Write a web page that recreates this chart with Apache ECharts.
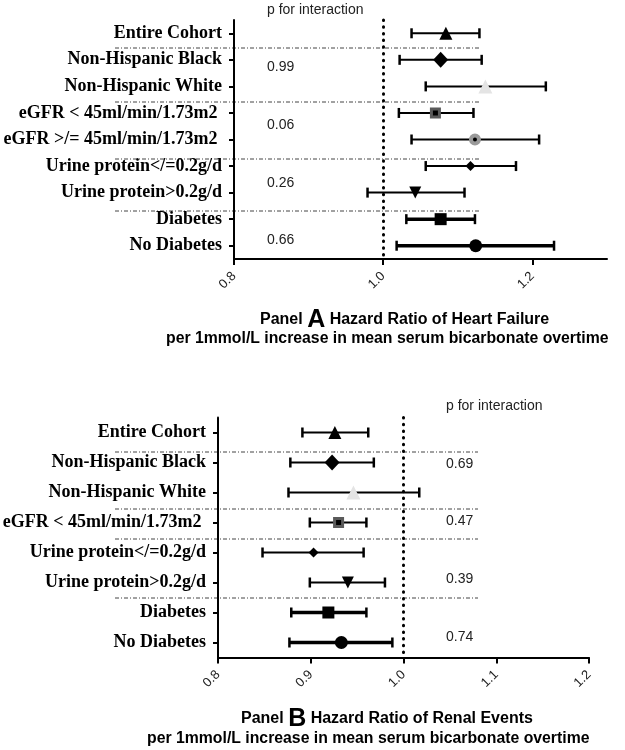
<!DOCTYPE html>
<html>
<head>
<meta charset="utf-8">
<script src="https://cdn.jsdelivr.net/npm/echarts@6/dist/echarts.min.js"></script>
<style>
  html, body { margin: 0; padding: 0; background: #fff; }
  #chart { width: 625px; height: 750px; }
</style>
</head>
<body>
<div id="chart"></div>
<script>
// Panel A - heart failure
const categoriesA = [
  "Entire Cohort",
  "Non-Hispanic Black",
  "Non-Hispanic White",
  "eGFR < 45ml/min/1.73m2 ",
  "eGFR >/= 45ml/min/1.73m2 ",
  "Urine protein</=0.2g/d",
  "Urine protein>0.2g/d",
  "Diabetes",
  "No Diabetes",
];
const estA = [1.084, 1.077, 1.137, 1.070, 1.123, 1.117, 1.043, 1.077, 1.124];
const lowA = [1.038, 1.022, 1.057, 1.021, 1.038, 1.057, 0.979, 1.031, 1.018];
const highA = [1.129, 1.132, 1.218, 1.121, 1.209, 1.178, 1.109, 1.123, 1.229];
const pValuesA = ["0.99", "0.06", "0.26", "0.66"];
const ticksA = [0.8, 1.0, 1.2];

// Panel B - renal events
const categoriesB = [
  "Entire Cohort",
  "Non-Hispanic Black",
  "Non-Hispanic White",
  "eGFR < 45ml/min/1.73m2 ",
  "Urine protein</=0.2g/d",
  "Urine protein>0.2g/d",
  "Diabetes",
  "No Diabetes",
];
const estB = [0.926, 0.923, 0.946, 0.930, 0.903, 0.940, 0.919, 0.933];
const lowB = [0.891, 0.878, 0.876, 0.899, 0.848, 0.899, 0.879, 0.877];
const highB = [0.962, 0.968, 1.017, 0.960, 0.957, 0.980, 0.960, 0.988];
const pValuesB = ["0.69", "0.47", "0.39", "0.74"];
const ticksB = [0.8, 0.9, 1.0, 1.1, 1.2];

// marker look for each subgroup
const markerStyles = {
  "Entire Cohort": { symbol: "triangle", symbolSize: 13, itemStyle: { color: "#000" } },
  "Non-Hispanic Black": { symbol: "diamond", symbolSize: [15, 16], itemStyle: { color: "#000" } },
  "Non-Hispanic White": { symbol: "triangle", symbolSize: 14, itemStyle: { color: "#e4e4e4" } },
  "eGFR < 45ml/min/1.73m2 ": { symbol: "rect", symbolSize: 8, itemStyle: { color: "#000", borderColor: "#5a5a5a", borderWidth: 3 } },
  "eGFR >/= 45ml/min/1.73m2 ": { symbol: "circle", symbolSize: 8, itemStyle: { color: "#000", borderColor: "#9a9a9a", borderWidth: 4 } },
  "Urine protein</=0.2g/d": { symbol: "diamond", symbolSize: 10, itemStyle: { color: "#000" } },
  "Urine protein>0.2g/d": { symbol: "triangle", symbolSize: 12, symbolRotate: 180, itemStyle: { color: "#000" } },
  "Diabetes": { symbol: "rect", symbolSize: 12, itemStyle: { color: "#000" } },
  "No Diabetes": { symbol: "circle", symbolSize: 13, itemStyle: { color: "#000" } },
};
const thickRows = ["Diabetes", "No Diabetes"];

const chart = echarts.init(document.getElementById("chart"));

function errorBarSeries(cats, low, high, axisIdx) {
  return {
    type: "custom",
    xAxisIndex: axisIdx,
    yAxisIndex: axisIdx,
    data: cats.map((c, i) => [i, low[i], high[i]]),
    encode: { x: [1, 2], y: 0 },
    z: 2,
    renderItem: function (params, api) {
      const idx = api.value(0);
      const p1 = api.coord([api.value(1), idx]);
      const p2 = api.coord([api.value(2), idx]);
      const lw = thickRows.indexOf(cats[idx]) >= 0 ? 3.5 : 2;
      const cap = 5;
      const st = { stroke: "#000", lineWidth: lw };
      return {
        type: "group",
        children: [
          { type: "line", shape: { x1: p1[0], y1: p1[1], x2: p2[0], y2: p2[1] }, style: st },
          { type: "line", shape: { x1: p1[0], y1: p1[1] - cap, x2: p1[0], y2: p1[1] + cap }, style: { stroke: "#000", lineWidth: 2.5 } },
          { type: "line", shape: { x1: p2[0], y1: p2[1] - cap, x2: p2[0], y2: p2[1] + cap }, style: { stroke: "#000", lineWidth: 2.5 } },
        ],
      };
    },
    markLine: {
      silent: true,
      symbol: "none",
      label: { show: false },
      lineStyle: { color: "#000", type: [0.5, 6.2], width: 3, cap: "round", opacity: 1 },
      data: [{ xAxis: 1.0 }],
    },
  };
}

function pointSeries(cats, est, axisIdx) {
  return {
    type: "scatter",
    xAxisIndex: axisIdx,
    yAxisIndex: axisIdx,
    z: 5,
    itemStyle: { opacity: 1 },
    data: cats.map((c, i) => {
      const s = markerStyles[c];
      return Object.assign({}, s, { value: [est[i], i], itemStyle: Object.assign({ opacity: 1 }, s.itemStyle) });
    }),
  };
}

function xAxisFor(gridIdx, min, max, interval, ticks) {
  return {
    type: "value",
    gridIndex: gridIdx,
    min: min,
    max: max,
    interval: interval,
    splitLine: { show: false },
    axisLine: { show: true, lineStyle: { color: "#000", width: 2 } },
    axisTick: { show: true, length: 6, lineStyle: { color: "#000", width: 2 }, customValues: ticks },
    axisLabel: {
      rotate: 45,
      margin: 15,
      fontSize: 13,
      fontFamily: "Liberation Sans",
      color: "#222",
      customValues: ticks,
      formatter: (v) => v.toFixed(1),
    },
  };
}

function yAxisFor(gridIdx, cats) {
  return {
    type: "category",
    gridIndex: gridIdx,
    data: cats,
    inverse: true,
    axisLine: { show: true, lineStyle: { color: "#000", width: 2 } },
    axisTick: { show: true, alignWithLabel: true, length: 5, lineStyle: { color: "#000", width: 2 } },
    axisLabel: {
      margin: 12,
      fontSize: 18,
      fontWeight: "bold",
      fontFamily: "Liberation Serif",
      color: "#000",
    },
    splitLine: { show: false },
  };
}

// decoration layout (pixels)
const sepA = [48, 102, 159, 211];
const sepB = [452, 509, 539, 598];
const pRowsA = [67, 125, 183, 240];
const pRowsB = [464, 521, 579, 637];

const graphics = [];
sepA.forEach((y) => graphics.push({ type: "line", shape: { x1: 115, y1: y, x2: 481, y2: y }, style: { stroke: "#444", lineWidth: 1, lineDash: [4, 2, 1, 2] } }));
sepB.forEach((y) => graphics.push({ type: "line", shape: { x1: 115, y1: y, x2: 478, y2: y }, style: { stroke: "#444", lineWidth: 1, lineDash: [4, 2, 1, 2] } }));

const smallFont = '14px "Liberation Sans"';
graphics.push({ type: "text", x: 267, y: 10, style: { text: "p for interaction", font: smallFont, fill: "#222", verticalAlign: "middle" } });
pValuesA.forEach((t, i) => graphics.push({ type: "text", x: 267, y: pRowsA[i], style: { text: t, font: smallFont, fill: "#222", verticalAlign: "middle" } }));
graphics.push({ type: "text", x: 446, y: 406, style: { text: "p for interaction", font: smallFont, fill: "#222", verticalAlign: "middle" } });
pValuesB.forEach((t, i) => graphics.push({ type: "text", x: 446, y: pRowsB[i], style: { text: t, font: smallFont, fill: "#222", verticalAlign: "middle" } }));

const titleRich = {
  a: { fontFamily: "Liberation Sans", fontWeight: "bold", fontSize: 16, fill: "#000" },
  b: { fontFamily: "Liberation Sans", fontWeight: "bold", fontSize: 25, fill: "#000" },
};
const subFont = 'bold 15.8px "Liberation Sans"';
graphics.push({ type: "text", x: 260, y: 320, style: { text: "{a|Panel }{b|A}{a| Hazard Ratio of Heart Failure}", rich: titleRich, verticalAlign: "middle" } });
graphics.push({ type: "text", x: 166, y: 339, style: { text: "per 1mmol/L increase in mean serum bicarbonate overtime", font: subFont, fill: "#000", verticalAlign: "middle" } });
graphics.push({ type: "text", x: 241, y: 719, style: { text: "{a|Panel }{b|B}{a| Hazard Ratio of Renal Events}", rich: titleRich, verticalAlign: "middle" } });
graphics.push({ type: "text", x: 147, y: 739, style: { text: "per 1mmol/L increase in mean serum bicarbonate overtime", font: subFont, fill: "#000", verticalAlign: "middle" } });

chart.setOption({
  animation: false,
  backgroundColor: "#fff",
  grid: [
    { left: 234, top: 20, width: 373, height: 239, containLabel: false, outerBoundsMode: "none" },
    { left: 218, top: 417.5, width: 371, height: 240, containLabel: false, outerBoundsMode: "none" },
  ],
  xAxis: [xAxisFor(0, 0.8, 1.3, 0.2, ticksA), xAxisFor(1, 0.8, 1.2, 0.1, ticksB)],
  yAxis: [yAxisFor(0, categoriesA), yAxisFor(1, categoriesB)],
  series: [
    errorBarSeries(categoriesA, lowA, highA, 0),
    pointSeries(categoriesA, estA, 0),
    errorBarSeries(categoriesB, lowB, highB, 1),
    pointSeries(categoriesB, estB, 1),
  ],
  graphic: graphics,
});
</script>
</body>
</html>
